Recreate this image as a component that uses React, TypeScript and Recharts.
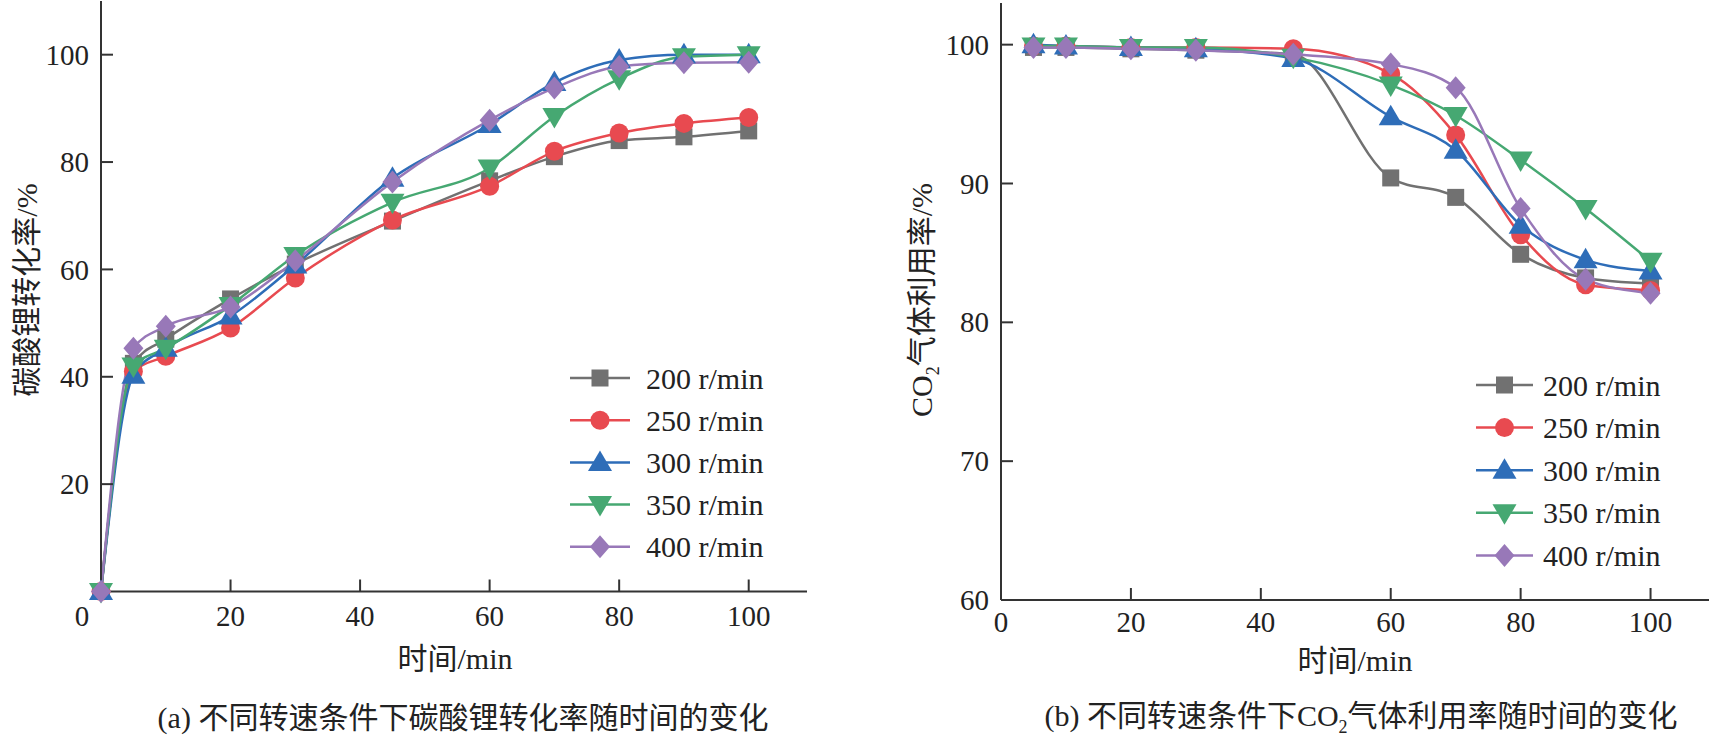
import React from 'react';
import { LineChart, Line, XAxis, YAxis } from 'recharts';

// ---------- data ----------
const seriesNames = ['200 r/min', '250 r/min', '300 r/min', '350 r/min', '400 r/min'];
const seriesColors = ['#717171', '#e84a50', '#2e6db8', '#46a872', '#9878b8'];
const seriesShapes = ['square', 'circle', 'triangle', 'triangleDown', 'diamond'];

// (a) conversion of lithium carbonate vs time
const timeA = [0, 5, 10, 20, 30, 45, 60, 70, 80, 90, 100];
const convA200 = [0, 42.5, 47, 54.5, 61, 69, 76.5, 81, 84, 84.7, 85.8];
const convA250 = [0, 41, 43.8, 49.1, 58.4, 69.2, 75.5, 82, 85.4, 87.2, 88.3];
const convA300 = [0, 40.3, 45.3, 51.3, 60.8, 77, 87, 94.8, 99, 100, 100];
const convA350 = [0, 42, 45.3, 53.3, 62.6, 72.5, 78.9, 88.5, 95.5, 99.6, 100];
const convA400 = [0, 45.3, 49.4, 53, 61.6, 76.3, 87.8, 93.8, 97.8, 98.5, 98.6];

// (b) CO2 utilisation vs time
const timeB = [5, 10, 20, 30, 45, 60, 70, 80, 90, 100];
const utilB200 = [99.8, 99.8, 99.7, 99.6, 99.3, 90.4, 89.0, 84.9, 83.2, 82.8];
const utilB250 = [99.9, 99.9, 99.8, 99.8, 99.7, 97.9, 93.5, 86.3, 82.7, 82.3];
const utilB300 = [100, 99.9, 99.8, 99.7, 99.0, 94.8, 92.4, 87.0, 84.5, 83.7];
const utilB350 = [99.9, 99.9, 99.8, 99.8, 99.1, 97.1, 94.9, 91.7, 88.2, 84.4];
const utilB400 = [99.8, 99.8, 99.7, 99.6, 99.3, 98.6, 96.9, 88.2, 83.1, 82.1];

const xTicks = [0, 20, 40, 60, 80, 100];
const yTicksA = [20, 40, 60, 80, 100];
const yTicksB = [60, 70, 80, 90, 100];

function buildRows(times: number[], list: number[][]) {
  return times.map((t, i) => {
    const row: any = { t };
    list.forEach((s, k) => {
      row['s' + k] = s[i];
    });
    return row;
  });
}

const rowsA = buildRows(timeA, [convA200, convA250, convA300, convA350, convA400]);
const rowsB = buildRows(timeB, [utilB200, utilB250, utilB300, utilB350, utilB400]);

// ---------- styles ----------
const SERIF = "'Liberation Serif', 'Times New Roman', 'Noto Sans CJK SC', serif";
const AXIS = '#333333';
const TEXT = '#222222';

function Marker({ cx, cy, shape, color }: any) {
  if (cx == null || cy == null) return null;
  if (shape === 'square')
    return <rect x={cx - 8.5} y={cy - 8.5} width={17} height={17} fill={color} />;
  if (shape === 'circle') return <circle cx={cx} cy={cy} r={9.5} fill={color} />;
  if (shape === 'triangle')
    return (
      <polygon
        points={`${cx},${cy - 12} ${cx - 12},${cy + 8.5} ${cx + 12},${cy + 8.5}`}
        fill={color}
      />
    );
  if (shape === 'triangleDown')
    return (
      <polygon
        points={`${cx},${cy + 12} ${cx - 12},${cy - 8.5} ${cx + 12},${cy - 8.5}`}
        fill={color}
      />
    );
  return (
    <polygon
      points={`${cx},${cy - 11.5} ${cx + 10},${cy} ${cx},${cy + 11.5} ${cx - 10},${cy}`}
      fill={color}
    />
  );
}

const makeYTick = () => (props: any) => {
  const { x, y, payload } = props;
  return (
    <g>
      <line x1={x + 12} x2={x + 24} y1={y} y2={y} stroke={AXIS} strokeWidth={2} />
      <text x={x} y={y} dy="0.35em" textAnchor="end" fontSize={29} fill={TEXT} fontFamily={SERIF}>
        {payload.value}
      </text>
    </g>
  );
};

const makeXTick = (margin: number, zeroShift: number) => (props: any) => {
  const { x, y, payload } = props;
  const tx = payload.value === 0 ? x + zeroShift : x;
  return (
    <g>
      {payload.value !== 0 && (
        <line x1={x} x2={x} y1={y - margin} y2={y - margin - 12} stroke={AXIS} strokeWidth={2} />
      )}
      <text x={tx} y={y} dy="0.35em" textAnchor="middle" fontSize={29} fill={TEXT} fontFamily={SERIF}>
        {payload.value}
      </text>
    </g>
  );
};

function seriesLines(prefix: string) {
  return seriesNames.map((name, k) => (
    <Line
      key={prefix + k}
      name={name}
      dataKey={'s' + k}
      type="monotone"
      stroke={seriesColors[k]}
      strokeWidth={2.5}
      isAnimationActive={false}
      activeDot={false}
      dot={(p: any) => (
        <g key={`${prefix}-${k}-${p.index}`}>
          <Marker cx={p.cx} cy={p.cy} shape={seriesShapes[k]} color={seriesColors[k]} />
        </g>
      )}
    />
  ));
}

function LegendBlock({ x1, x2, textX, startY, gap }: any) {
  return (
    <g>
      {seriesNames.map((name, k) => {
        const y = startY + k * gap;
        return (
          <g key={name}>
            <line x1={x1} x2={x2} y1={y} y2={y} stroke={seriesColors[k]} strokeWidth={2.5} />
            <Marker cx={(x1 + x2) / 2} cy={y} shape={seriesShapes[k]} color={seriesColors[k]} />
            <text x={textX} y={y} dy="0.35em" fontSize={30} fill={TEXT} fontFamily={SERIF}>
              {name}
            </text>
          </g>
        );
      })}
    </g>
  );
}

const textStyle: React.CSSProperties = {
  position: 'absolute',
  fontFamily: SERIF,
  color: TEXT,
  fontSize: 30,
  whiteSpace: 'nowrap',
  lineHeight: 1,
};

export default function App() {
  return (
    <div
      style={{
        position: 'absolute',
        left: 0,
        top: 0,
        width: 1716,
        height: 748,
        background: '#ffffff',
        overflow: 'hidden',
      }}
    >
      {/* (a) */}
      <div style={{ position: 'absolute', left: 0, top: 0 }}>
        <LineChart
          width={830}
          height={748}
          data={rowsA}
          margin={{ top: 1, right: 23, bottom: 116.5, left: 0 }}
        >
          <XAxis
            dataKey="t"
            type="number"
            domain={[0, 109]}
            ticks={xTicks}
            height={40}
            tickSize={0}
            tickMargin={24}
            tick={makeXTick(24, -19)}
            axisLine={{ stroke: AXIS, strokeWidth: 2 }}
            tickLine={false}
          />
          <XAxis
            xAxisId="top"
            orientation="top"
            type="number"
            domain={[0, 109]}
            height={0}
            tick={false}
            tickLine={false}
            axisLine={{ stroke: AXIS, strokeWidth: 2 }}
          />
          <YAxis
            type="number"
            domain={[0, 110]}
            ticks={yTicksA}
            width={101}
            tickSize={0}
            tickMargin={12}
            tick={makeYTick()}
            axisLine={{ stroke: AXIS, strokeWidth: 2 }}
            tickLine={false}
          />
          <YAxis
            yAxisId="r"
            orientation="right"
            type="number"
            domain={[0, 110]}
            width={0}
            tick={false}
            tickLine={false}
            axisLine={{ stroke: AXIS, strokeWidth: 2 }}
          />
          {seriesLines('a')}
        </LineChart>
      </div>

      {/* (b) */}
      <div style={{ position: 'absolute', left: 900, top: 0 }}>
        <LineChart
          width={816}
          height={748}
          data={rowsB}
          margin={{ top: 3, right: 7, bottom: 108, left: 0 }}
        >
          <XAxis
            dataKey="t"
            type="number"
            domain={[0, 109]}
            ticks={xTicks}
            height={40}
            tickSize={0}
            tickMargin={22}
            tick={makeXTick(22, 0)}
            axisLine={{ stroke: AXIS, strokeWidth: 2 }}
            tickLine={false}
          />
          <XAxis
            xAxisId="top"
            orientation="top"
            type="number"
            domain={[0, 109]}
            height={0}
            tick={false}
            tickLine={false}
            axisLine={{ stroke: AXIS, strokeWidth: 2 }}
          />
          <YAxis
            type="number"
            domain={[60, 103]}
            ticks={yTicksB}
            width={101}
            tickSize={0}
            tickMargin={12}
            tick={makeYTick()}
            axisLine={{ stroke: AXIS, strokeWidth: 2 }}
            tickLine={false}
          />
          <YAxis
            yAxisId="r"
            orientation="right"
            type="number"
            domain={[60, 103]}
            width={0}
            tick={false}
            tickLine={false}
            axisLine={{ stroke: AXIS, strokeWidth: 2 }}
          />
          {seriesLines('b')}
        </LineChart>
      </div>

      {/* legends */}
      <svg
        width={1716}
        height={748}
        style={{ position: 'absolute', left: 0, top: 0, pointerEvents: 'none' }}
      >
        <LegendBlock x1={570} x2={630} textX={646} startY={378} gap={42.2} />
        <LegendBlock x1={1476} x2={1533} textX={1543} startY={385} gap={42.6} />
      </svg>

      {/* axis titles */}
      <div style={{ ...textStyle, left: 27, top: 290, transform: 'translate(-50%, -50%) rotate(-90deg)' }}>
        碳酸锂转化率/%
      </div>
      <div style={{ ...textStyle, left: 924, top: 300, transform: 'translate(-50%, -50%) rotate(-90deg)' }}>
        CO<sub style={{ fontSize: 18 }}>2</sub>气体利用率/%
      </div>
      <div style={{ ...textStyle, left: 455, top: 659, transform: 'translate(-50%, -50%)' }}>时间/min</div>
      <div style={{ ...textStyle, left: 1355, top: 661, transform: 'translate(-50%, -50%)' }}>时间/min</div>

      {/* captions */}
      <div style={{ ...textStyle, left: 463, top: 718, transform: 'translate(-50%, -50%)' }}>
        (a) 不同转速条件下碳酸锂转化率随时间的变化
      </div>
      <div style={{ ...textStyle, left: 1361, top: 718, transform: 'translate(-50%, -50%)' }}>
        (b) 不同转速条件下CO<sub style={{ fontSize: 18 }}>2</sub>气体利用率随时间的变化
      </div>
    </div>
  );
}
